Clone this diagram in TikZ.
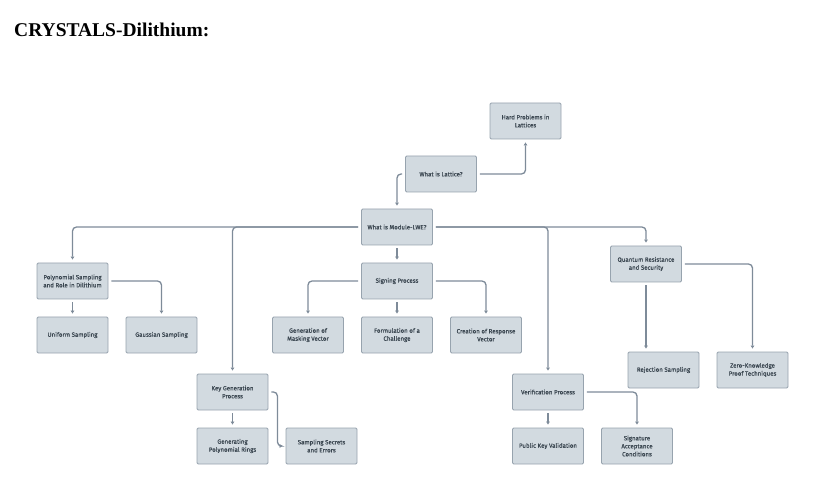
\documentclass[tikz,border=0pt]{standalone}
\usepackage{fontspec}
\setmainfont{Liberation Serif}
\newfontfamily\boxfont{Fira Sans}[FakeBold=0.5]
\usetikzlibrary{arrows.meta}
\definecolor{boxfill}{HTML}{D2DAE0}
\definecolor{boxline}{HTML}{97A3AE}
\definecolor{conn}{HTML}{7E8B99}
\definecolor{boxtext}{HTML}{3A4650}
\tikzset{
  card/.style={draw=boxline, fill=boxfill, line width=0.9pt, rounded corners=1.2pt,
    minimum width=71pt, minimum height=36pt, inner sep=1pt, align=center,
    text=boxtext, font=\boxfont\fontsize{6.1}{8}\selectfont},
  arr/.style={draw=conn, line width=1.3pt, rounded corners=4pt,
    -{Triangle[length=3pt,width=3.6pt]}, shorten >=3pt, shorten <=3pt},
}
\begin{document}
\begin{tikzpicture}[x=1pt,y=1pt]
\useasboundingbox (0,0) rectangle (828,-497);
\node[anchor=base west, inner sep=0pt, font=\bfseries\fontsize{19.5}{23}\selectfont] (title) at (14,-37) {CRYSTALS-Dilithium:};

\node[card] (hard) at (525.5,-121) {Hard Problems in\\Lattices};
\node[card] (lat) at (441,-174) {What is Lattice?};
\node[card] (mlwe) at (397,-227) {What is Module-LWE?};

\node[card] (poly) at (72.5,-281) {Polynomial Sampling\\and Role in Dilithium};
\node[card] (unif) at (72.5,-335) {Uniform Sampling};
\node[card] (gaus) at (161.5,-335) {Gaussian Sampling};

\node[card] (sign) at (397,-281) {Signing Process};
\node[card] (mask) at (308,-335) {Generation of\\Masking Vector};
\node[card] (chal) at (397,-335) {Formulation of a\\Challenge};
\node[card] (resp) at (486,-335) {Creation of Response\\Vector};

\node[card] (quant) at (646,-264) {Quantum Resistance\\and Security};
\node[card] (rej) at (663.5,-370) {Rejection Sampling};
\node[card] (zk) at (752.5,-370) {Zero-Knowledge\\Proof Techniques};

\node[card] (kg) at (232.5,-392) {Key Generation\\Process};
\node[card] (gpr) at (232.5,-446) {Generating\\Polynomial Rings};
\node[card] (sse) at (321.5,-446) {Sampling Secrets\\and Errors};

\node[card] (ver) at (548,-392) {Verification Process};
\node[card] (pkv) at (548,-446) {Public Key Validation};
\node[card] (sac) at (637,-446) {Signature\\Acceptance\\Conditions};

% connectors
\draw[arr] (lat.east) -| (hard.south);
\draw[arr] (lat.west) -| (mlwe.north);
\draw[arr] (mlwe.west) -| (poly.north);
\draw[arr] (mlwe.west) -| (kg.north);
\draw[arr] (mlwe.east) -| (ver.north);
\draw[arr] (mlwe.east) -| (quant.north);
\draw[arr] (mlwe.south) -- (sign.north);
\draw[arr] (poly.south) -- (unif.north);
\draw[arr] (poly.east) -| (gaus.north);
\draw[arr] (sign.west) -| (mask.north);
\draw[arr] (sign.south) -- (chal.north);
\draw[arr] (sign.east) -| (resp.north);
\draw[arr] (quant.south) -- (quant.south |- rej.north);
\draw[arr] (quant.east) -| (zk.north);
\draw[arr] (kg.south) -- (gpr.north);
\coordinate (kgbend) at ([xshift=9pt]kg.east);
\draw[arr] (kg.east) -- (kgbend) |- (sse.west);
\draw[arr] (ver.south) -- (pkv.north);
\draw[arr] (ver.east) -| (sac.north);
\end{tikzpicture}
\end{document}
